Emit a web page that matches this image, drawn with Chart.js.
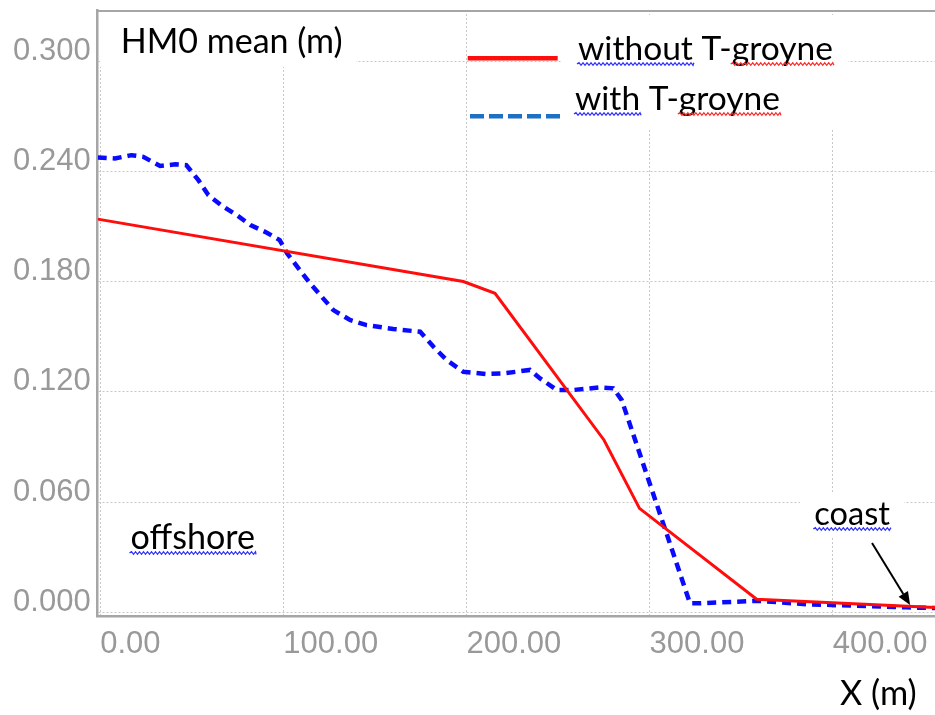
<!DOCTYPE html>
<html>
<head>
<meta charset="utf-8">
<script src="https://cdn.jsdelivr.net/npm/chart.js@4.4.1/dist/chart.umd.min.js"></script>
<style>
  html, body { margin: 0; padding: 0; background: #fff; }
  canvas { display: block; }
</style>
</head>
<body>
<canvas id="chart" width="935" height="715"></canvas>
<script>
// Mean significant wave height (HM0) along the cross-shore profile, offshore -> coast
const withoutX = [-1.4, 198.3, 215.6, 275.1, 294.5, 358.5, 455.9];
const withoutY = [0.2140, 0.1800, 0.1736, 0.0938, 0.0566, 0.0071, 0.0026];

const withX = [-1.4, 8.0, 17.0, 23.5, 32.7, 41.0, 47.0, 53.6, 59.0, 66.4, 74.5, 82.0, 91.0, 98.0,
               102.0, 114.6, 127.3, 136.4, 145.5, 160.0, 174.7, 182.0, 189.2, 198.3, 211.0, 220.0,
               234.7, 240.2, 249.3, 258.4, 273.0, 280.2, 284.8, 322.1, 327.6, 358.5, 386.0, 440.5, 455.9];
const withY = [0.2475, 0.2470, 0.2488, 0.2479, 0.2429, 0.2438, 0.2434, 0.2352, 0.2271, 0.2213, 0.2162, 0.2108, 0.2066, 0.2026,
               0.1954, 0.1790, 0.1645, 0.1591, 0.1563, 0.1542, 0.1527, 0.1445, 0.1373, 0.1309, 0.1297, 0.1300,
               0.1319, 0.1273, 0.1210, 0.1210, 0.1224, 0.1219, 0.1155, 0.0049, 0.0049, 0.0063, 0.0044, 0.0027, 0.0023];

const xTicks = [0, 100, 200, 300, 400];
const yTicks = [0, 0.06, 0.12, 0.18, 0.24, 0.30];
const xRange = [-1.4, 455.9];
const yRange = [-0.002, 0.3278];

// arrow pointing at the shoreline, in data units
const coastArrowFrom = [421.5, 0.0377];
const coastArrowTo = [442.3, 0.0040];

const RED = '#ff0d0d';
const BLUE = '#0a0aff';
const LEGEND_BLUE = '#1f6fc5';
const FRAME = '#a6a6a6';
const TICK_GREY = '#999999';
const GRID = '#c8c8c8';
const TEXT_FONT = 'Lato, "Open Sans", sans-serif';
const TICK_FONT = '"Liberation Sans", Arial, sans-serif';

// free text placed on the canvas: left x, baseline, width the text is sized to
const notes = [
  { text: 'HM0 mean (m)', x: 120.7, base: 53.3, w: 222 },
  { text: 'without T-groyne', x: 578, base: 60, w: 255, wavy: [['without', '#3030ff'], ['groyne', '#ff2a2a']] },
  { text: 'with T-groyne', x: 575, base: 110, w: 205, wavy: [['with', '#3030ff'], ['groyne', '#ff2a2a']] },
  { text: 'offshore', x: 130.5, base: 549, w: 124.5, wavy: [['offshore', '#3030ff']] },
  { text: 'coast', x: 814.3, base: 525, w: 75.7, wavy: [['coast', '#3030ff']] },
  { text: 'X (m)', x: 840, base: 705, w: 76.7 }
];
// white text-box backgrounds that hide the grid behind the labels
const textBoxes = [
  [100, 11, 356, 67],
  [562, 15, 848, 128],
  [800, 494, 904, 537]
];

function fitSize(ctx, text, width) {
  ctx.font = '100px ' + TEXT_FONT;
  return 100 * width / ctx.measureText(text).width;
}

function wavyLine(ctx, x1, x2, y, color) {
  ctx.save();
  ctx.strokeStyle = color;
  ctx.lineWidth = 1.3;
  ctx.beginPath();
  let up = true;
  ctx.moveTo(x1, y);
  for (let x = x1; x < x2; x += 2) {
    ctx.lineTo(Math.min(x + 2, x2), y + (up ? -1.3 : 1.3));
    up = !up;
  }
  ctx.stroke();
  ctx.restore();
}

const overlay = {
  id: 'overlay',
  beforeDatasetsDraw(chart) {
    const { ctx, chartArea: a } = chart;
    ctx.save();
    ctx.fillStyle = '#ffffff';
    textBoxes.forEach(([l, t, r, b]) => ctx.fillRect(l, t, r - l, b - t));
    // top frame of the plot area
    ctx.strokeStyle = FRAME;
    ctx.lineWidth = 2;
    ctx.beginPath();
    ctx.moveTo(a.left, a.top + 1);
    ctx.lineTo(a.right, a.top + 1);
    ctx.stroke();
    ctx.restore();
  },
  afterDatasetsDraw(chart) {
    const { ctx, scales } = chart;
    ctx.save();
    // labels
    notes.forEach(n => {
      const size = fitSize(ctx, n.text, n.w);
      ctx.font = size + 'px ' + TEXT_FONT;
      ctx.fillStyle = '#000';
      ctx.textAlign = 'left';
      ctx.textBaseline = 'alphabetic';
      ctx.fillText(n.text, n.x, n.base);
      (n.wavy || []).forEach(([word, color]) => {
        const i = n.text.indexOf(word);
        const x1 = n.x + ctx.measureText(n.text.slice(0, i)).width;
        const x2 = x1 + ctx.measureText(word).width;
        wavyLine(ctx, x1 - 1, x2 + 1, n.base + 4, color);
      });
    });

    // legend samples
    ctx.lineCap = 'butt';
    ctx.lineWidth = 4.5;
    ctx.strokeStyle = RED;
    ctx.beginPath();
    ctx.moveTo(467.7, 58.3);
    ctx.lineTo(557.7, 58.3);
    ctx.stroke();
    ctx.strokeStyle = LEGEND_BLUE;
    ctx.setLineDash([14, 5]);
    ctx.beginPath();
    ctx.moveTo(470, 116.3);
    ctx.lineTo(562, 116.3);
    ctx.stroke();
    ctx.setLineDash([]);

    // coast arrow
    const x1 = scales.x.getPixelForValue(coastArrowFrom[0]);
    const y1 = scales.y.getPixelForValue(coastArrowFrom[1]);
    const x2 = scales.x.getPixelForValue(coastArrowTo[0]);
    const y2 = scales.y.getPixelForValue(coastArrowTo[1]);
    const ang = Math.atan2(y2 - y1, x2 - x1);
    const head = 13, half = 5.5;
    ctx.strokeStyle = '#000';
    ctx.fillStyle = '#000';
    ctx.lineWidth = 2;
    ctx.beginPath();
    ctx.moveTo(x1, y1);
    ctx.lineTo(x2 - head * Math.cos(ang), y2 - head * Math.sin(ang));
    ctx.stroke();
    ctx.beginPath();
    ctx.moveTo(x2, y2);
    ctx.lineTo(x2 - head * Math.cos(ang) + half * Math.sin(ang), y2 - head * Math.sin(ang) - half * Math.cos(ang));
    ctx.lineTo(x2 - head * Math.cos(ang) - half * Math.sin(ang), y2 - head * Math.sin(ang) + half * Math.cos(ang));
    ctx.closePath();
    ctx.fill();
    ctx.restore();
  }
};

const toPoints = (xs, ys) => xs.map((x, i) => ({ x, y: ys[i] }));

new Chart(document.getElementById('chart'), {
  type: 'line',
  data: {
    datasets: [
      {
        label: 'without T-groyne',
        data: toPoints(withoutX, withoutY),
        borderColor: RED,
        borderWidth: 3,
        pointRadius: 0,
        tension: 0,
        fill: false
      },
      {
        label: 'with T-groyne',
        data: toPoints(withX, withY),
        borderColor: BLUE,
        borderWidth: 4.5,
        borderDash: [9, 6],
        pointRadius: 0,
        tension: 0,
        fill: false
      }
    ]
  },
  options: {
    responsive: false,
    animation: false,
    devicePixelRatio: 1,
    layout: { padding: { top: 10, left: 0, right: 0, bottom: 0 } },
    plugins: { legend: { display: false }, tooltip: { enabled: false }, title: { display: false } },
    scales: {
      x: {
        type: 'linear',
        min: xRange[0],
        max: xRange[1],
        afterBuildTicks(scale) { scale.ticks = xTicks.map(v => ({ value: v })); },
        afterFit(scale) { scale.height = 99; scale.paddingLeft = 0; scale.paddingRight = 0; },
        grid: { color: GRID, lineWidth: 1, drawTicks: false },
        border: { display: true, color: FRAME, width: 2.5, dash: [2, 2] },
        ticks: {
          align: 'start',
          padding: 10,
          color: TICK_GREY,
          font: { family: TICK_FONT, size: 31 },
          maxRotation: 0,
          autoSkip: false,
          callback: v => Number(v).toFixed(2)
        }
      },
      y: {
        type: 'linear',
        min: yRange[0],
        max: yRange[1],
        afterBuildTicks(scale) { scale.ticks = yTicks.map(v => ({ value: v })); },
        afterFit(scale) { scale.width = 97.7; scale.paddingTop = 0; scale.paddingBottom = 0; },
        grid: { color: GRID, lineWidth: 1, drawTicks: false },
        border: { display: true, color: FRAME, width: 2.5, dash: [2, 2] },
        ticks: {
          padding: 7,
          labelOffset: -10,
          color: TICK_GREY,
          font: { family: TICK_FONT, size: 31 },
          autoSkip: false,
          callback: v => Number(v).toFixed(3)
        }
      }
    }
  },
  plugins: [overlay]
});
</script>
</body>
</html>
